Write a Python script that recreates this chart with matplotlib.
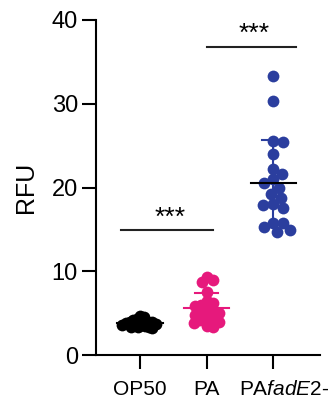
import numpy as np
import matplotlib
matplotlib.use("Agg")
import matplotlib.pyplot as plt
from matplotlib.transforms import ScaledTranslation

plt.rcParams['font.family'] = ['Liberation Sans', 'DejaVu Sans']
plt.rcParams['mathtext.fontset'] = 'custom'
plt.rcParams['mathtext.rm'] = 'Liberation Sans'
plt.rcParams['mathtext.it'] = 'Liberation Sans:italic'

categories = ['OP50', 'PA', r'PA$\it{fadE}$2-']
op50 = [4.6, 4.5, 4.3, 4.2, 4.1, 4.0, 4.0, 3.9, 3.9, 3.8, 3.8, 3.7, 3.7, 3.6, 3.6,
        3.5, 3.4, 3.3, 3.3, 3.2]
pa = [9.3, 9.0, 8.7, 7.5, 6.5, 6.2, 6.0, 5.8, 5.5, 5.3, 5.0, 5.0, 4.8, 4.5, 4.4,
      4.2, 4.0, 3.8, 3.5, 3.4]
pafade2 = [33.3, 30.3, 25.6, 25.4, 24.0, 22.2, 21.6, 21.0, 20.5, 20.0, 19.2, 18.8,
           18.0, 17.9, 17.6, 15.8, 15.8, 15.3, 14.9, 14.7]
groups = [op50, pa, pafade2]
colors = ['#000000', '#E6197C', '#2B3E9E']
mean_colors = ['#000000', '#E6197C', '#000000']
yticks = [0, 10, 20, 30, 40]
sig_labels = ['***', '***']

W, H, DPI = 330, 403, 100
fig = plt.figure(figsize=(W / DPI, H / DPI), dpi=DPI)
ax_l, ax_r, ax_b, ax_t = 96, 320, 355, 20
ax = fig.add_axes([ax_l / W, 1 - ax_b / H, (ax_r - ax_l) / W, (ax_b - ax_t) / H])
xlim = (-0.657, 2.70)
ylim = (0, 40)
ax.set_xlim(*xlim)
ax.set_ylim(*ylim)
px_x = (ax_r - ax_l) / (xlim[1] - xlim[0])
px_y = (ax_b - ax_t) / (ylim[1] - ylim[0])


def swarm(vals, sep_px):
    ys = np.array(vals) * px_y
    order = np.argsort(-ys)
    placed = []
    xs = np.zeros(len(vals))
    for i in order:
        y = ys[i]
        cands = [0.0]
        for (px, py) in placed:
            dy = y - py
            if abs(dy) < sep_px:
                dx = np.sqrt(sep_px ** 2 - dy ** 2)
                cands += [px + dx, px - dx]
        cands = sorted(cands, key=abs)
        for c in cands:
            ok = all((c - px) ** 2 + (y - py) ** 2 >= sep_px ** 2 - 1e-6 for px, py in placed)
            if ok:
                xs[i] = c
                break
        placed.append((xs[i], y))
    return xs / px_x


seps = [4.0, 6.8, 10.0]
for i, (vals, c, mc) in enumerate(zip(groups, colors, mean_colors)):
    offs = swarm(vals, seps[i])
    ax.scatter(i + offs, vals, s=72, color=c, zorder=3, linewidths=0)
    m = np.mean(vals)
    sd = np.std(vals, ddof=1)
    ax.plot([i, i], [m - sd, m + sd], color=c, lw=1.5, zorder=4)
    for yy in (m - sd, m + sd):
        ax.plot([i - 0.17, i + 0.17], [yy, yy], color=c, lw=1.5, zorder=4)
    ax.plot([i - 0.34, i + 0.34], [m, m], color=mc, lw=1.5, zorder=5)

# significance bars
ax.plot([-0.28, 1.10], [14.9, 14.9], color='#222222', lw=1.5)
ax.text(0.45, 15.0, sig_labels[0], ha='center', va='bottom', fontsize=19)
ax.plot([1.0, 2.34], [36.8, 36.8], color='#222222', lw=1.5)
ax.text(1.72, 36.9, sig_labels[1], ha='center', va='bottom', fontsize=19)

for s in ['top', 'right']:
    ax.spines[s].set_visible(False)
for s in ['left', 'bottom']:
    ax.spines[s].set_linewidth(1.5)
ax.set_yticks(yticks)
ax.set_xticks(range(3))
ax.set_xticklabels(categories)
ax.tick_params(axis='y', length=10, width=1.5, labelsize=17, pad=3)
ax.tick_params(axis='x', length=10, width=1.5, labelsize=15, pad=8)
lbls = ax.get_xticklabels()
lbls[2].set_transform(lbls[2].get_transform() + ScaledTranslation(11 / DPI, 0, fig.dpi_scale_trans))
ax.set_ylabel('RFU', fontsize=18, labelpad=10)

fig.savefig('out.png', dpi=DPI)
